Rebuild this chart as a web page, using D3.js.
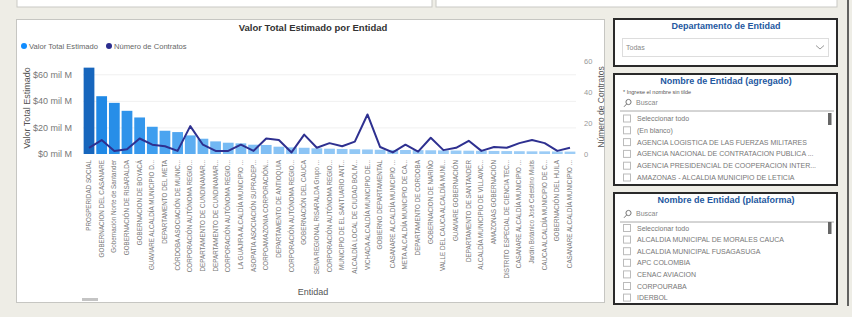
<!DOCTYPE html>
<html>
<head>
<meta charset="utf-8">
<script src="https://cdn.jsdelivr.net/npm/d3@7"></script>
<style>
  body { margin: 0; background: #eeede6; }
  svg { display: block; font-family: "Liberation Sans", Arial, sans-serif; }
</style>
</head>
<body>
<svg id="chart" width="852" height="317"></svg>
<script>
// datos (valor en mil M, contratos en unidades)
var entidades = [
  "PROSPERIDAD SOCIAL", "GOBERNACION DEL CASANARE", "Gobernación Norte de Santander",
  "GOBERNACIÓN DE RISARALDA", "GOBERNACION DE BOYACÁ", "GUAVIARE ALCALDÍA MUNICIPIO D...",
  "DEPARTAMENTO DEL META", "CÓRDOBA ASOCIACIÓN DE MUNIC...", "CORPORACIÓN AUTÓNOMA REGIO...",
  "DEPARTAMENTO DE CUNDINAMAR...", "DEPARTAMENTO DE CUNDINAMAR...", "CORPORACIÓN AUTÓNOMA REGIO...",
  "LA GUAJIRA ALCALDÍA MUNICIPIO ...", "ASOPATIA ASOCIACIÓN SUPRADEP...", "CORPOAMAZONIA CORPORACIÓN...",
  "DEPARTAMENTO DE ANTIOQUIA", "CORPORACIÓN AUTÓNOMA REGIO...", "GOBERNACIÓN DEL CAUCA",
  "SENA REGIONAL RISARALDA Grupo ...", "CORPORACIÓN AUTÓNOMA REGIO...", "MUNICIPIO DE EL SANTUARIO ANT...",
  "ALCALDÍA LOCAL DE CIUDAD BOLIV...", "VICHADA ALCALDÍA MUNICIPIO DE...", "GOBIERNO DEPARTAMENTAL",
  "CASANARE ALCALDÍA MUNICIPIO ...", "META ALCALDÍA MUNICIPIO DE CA...", "DEPARTAMENTO DE CORDOBA",
  "GOBERNACION DE NARIÑO", "VALLE DEL CAUCA ALCALDÍA MUNI...", "GUAVIARE GOBERNACIÓN",
  "DEPARTAMENTO DE SANTANDER", "ALCALDÍA MUNICIPIO DE VILLAVIC...", "AMAZONAS GOBERNACIÓN",
  "DISTRITO ESPECIAL DE CIENCIA TEC...", "CASANARE ALCALDÍA MUNICIPIO ...", "Jardín Botánico José Celestino Mutis",
  "CAUCA ALCALDÍA MUNICIPIO DE C...", "GOBERNACIÓN DEL HUILA", "CASANARE ALCALDÍA MUNICIPIO ..."
];
var valorTotal = [65, 43.5, 38.5, 32.5, 27.5, 20.5, 17.5, 16.5, 14, 11.5, 9.5, 8.5, 8, 7, 6.8,
  5.5, 5, 4.7, 4.3, 4, 3.8, 3.6, 3.4, 3.2, 3.1, 3, 2.9, 2.8, 2.7, 2.6, 2.5, 2.4, 2.3, 2.2,
  2.1, 2, 2, 1.9, 1.8];
var numContratos = [4, 9, 2, 3, 10, 6, 5, 2, 18, 6, 2, 2, 6, 2, 10, 9, 1, 12.5, 4, 7, 5, 8,
  25.5, 4.5, 1, 6, 1.5, 10.5, 2.5, 4, 8.5, 2, 4.5, 4, 7, 9, 7, 2, 4];
var ticksValor = [0, 20, 40, 60];
var ticksContratos = [0, 20, 40, 60];

var slicerDepto = ["Todas"];
var listaAgregado = ["Seleccionar todo", "(En blanco)", "AGENCIA LOGISTICA DE LAS FUERZAS MILITARES",
  "AGENCIA NACIONAL DE CONTRATACION PUBLICA ...", "AGENCIA PRESIDENCIAL DE COOPERACION INTER...",
  "AMAZONAS - ALCALDIA MUNICIPIO DE LETICIA"];
var listaPlataforma = ["Seleccionar todo", "ALCALDIA MUNICIPAL DE MORALES CAUCA", "ALCALDIA MUNICIPAL FUSAGASUGA",
  "APC COLOMBIA", "CENAC AVIACION", "CORPOURABA", "IDERBOL"];

var svg = d3.select("#chart");

// bordes de visuales arriba (cortados)
svg.append("rect").attr("x", 17).attr("y", -3).attr("width", 415).attr("height", 10)
  .attr("fill", "#fff").attr("stroke", "#c9c9c4");
svg.append("rect").attr("x", 436).attr("y", -3).attr("width", 401).attr("height", 10)
  .attr("fill", "#fff").attr("stroke", "#c9c9c4");
svg.append("line").attr("x1", 848).attr("x2", 848).attr("y1", 0).attr("y2", 306)
  .attr("stroke", "#333").attr("stroke-width", 1.5);

// panel del grafico
svg.append("rect").attr("x", 16.5).attr("y", 19.5).attr("width", 588).attr("height", 283)
  .attr("fill", "#fff").attr("stroke", "#c6c6c2");

svg.append("text").attr("x", 313).attr("y", 31).attr("text-anchor", "middle")
  .attr("font-size", "9.5px").attr("font-weight", "bold").attr("fill", "#333")
  .text("Valor Total Estimado por Entidad");

// leyenda
var legend = svg.append("g");
legend.append("circle").attr("cx", 24).attr("cy", 46).attr("r", 3).attr("fill", "#118dff");
legend.append("text").attr("x", 29).attr("y", 48.5).attr("font-size", "7.6px").attr("fill", "#666").text("Valor Total Estimado");
legend.append("circle").attr("cx", 109).attr("cy", 46).attr("r", 3).attr("fill", "#2b2d8e");
legend.append("text").attr("x", 114).attr("y", 48.5).attr("font-size", "7.6px").attr("fill", "#666").text("Número de Contratos");

var x = d3.scaleBand().domain(d3.range(entidades.length)).range([83, 576]).paddingInner(0.15).paddingOuter(0.05);
var yL = d3.scaleLinear().domain([0, 70]).range([154, 61]);
var yR = d3.scaleLinear().domain([0, 60]).range([154, 61]);

// lineas de cuadricula
svg.append("g").attr("transform", "translate(83,0)")
  .call(d3.axisLeft(yL).tickValues(ticksValor.slice(1)).tickSize(-493).tickFormat(""))
  .call(function(g) { g.select(".domain").remove(); })
  .selectAll("line").attr("stroke", "#f0f0f0");

// eje izquierdo
svg.append("g").attr("transform", "translate(75,0)")
  .call(d3.axisLeft(yL).tickValues(ticksValor).tickSize(0).tickFormat(function(d) { return "$" + d + " mil M"; }))
  .call(function(g) { g.select(".domain").remove(); })
  .selectAll("text").attr("font-size", "9px").attr("fill", "#777").attr("font-family", null).attr("dy", "0.32em");

svg.append("text").attr("transform", "translate(30,108) rotate(-90)").attr("text-anchor", "middle")
  .attr("font-size", "9px").attr("fill", "#555").text("Valor Total Estimado");

// eje derecho
svg.append("g").attr("transform", "translate(584,0)")
  .call(d3.axisRight(yR).tickValues(ticksContratos).tickSize(0).tickPadding(0))
  .call(function(g) { g.select(".domain").remove(); })
  .selectAll("text").attr("font-size", "7.5px").attr("fill", "#999").attr("font-family", null);

svg.append("text").attr("transform", "translate(604,107) rotate(-90)").attr("text-anchor", "middle")
  .attr("font-size", "8.5px").attr("fill", "#555").text("Número de Contratos");

// barras
var color = d3.scaleLinear().domain([0, 8, 20, 45, 65])
  .range(["#a8d2f7", "#78bbf3", "#3f9eef", "#1e88e5", "#1766bd"]);
svg.append("g").selectAll("rect").data(valorTotal).join("rect")
  .attr("x", function(d, i) { return x(i); })
  .attr("y", function(d) { return yL(d); })
  .attr("width", x.bandwidth())
  .attr("height", function(d) { return yL(0) - yL(d); })
  .attr("fill", function(d) { return color(d); });

// linea de contratos
var line = d3.line()
  .x(function(d, i) { return x(i) + x.bandwidth() / 2; })
  .y(function(d) { return yR(d); });
svg.append("path").datum(numContratos).attr("d", line)
  .attr("fill", "none").attr("stroke", "#2e3090").attr("stroke-width", 2).attr("stroke-linejoin", "round");

// eje x
svg.append("g").attr("transform", "translate(0,157)")
  .call(d3.axisBottom(x).tickSize(0).tickFormat(function(i) { return entidades[i]; }))
  .call(function(g) { g.select(".domain").remove(); })
  .selectAll("text")
  .attr("font-size", "6.3px").attr("fill", "#777").attr("font-family", null)
  .attr("text-anchor", "end").attr("transform", "rotate(-90)")
  .attr("x", -3).attr("y", 0).attr("dy", "0.32em");

svg.append("text").attr("x", 313).attr("y", 295).attr("text-anchor", "middle")
  .attr("font-size", "9px").attr("fill", "#555").text("Entidad");

// barra de desplazamiento
svg.append("rect").attr("x", 82).attr("y", 298).attr("width", 16).attr("height", 3).attr("fill", "#c4c4c4");

// segmentadores
function panel(y, h, titulo) {
  svg.append("rect").attr("x", 614).attr("y", y).attr("width", 223).attr("height", h)
    .attr("fill", "#fff").attr("stroke", "#2a2a2a").attr("stroke-width", 2);
  svg.append("text").attr("x", 726).attr("y", y + 9.5).attr("text-anchor", "middle")
    .attr("font-size", "9px").attr("font-weight", "bold").attr("fill", "#24589f").text(titulo);
}

function buscar(y) {
  svg.append("circle").attr("cx", 628.5).attr("cy", y - 3).attr("r", 2.6).attr("fill", "none").attr("stroke", "#777");
  svg.append("line").attr("x1", 626.6).attr("y1", y - 1).attr("x2", 624).attr("y2", y + 1.8).attr("stroke", "#777");
  svg.append("text").attr("x", 636).attr("y", y).attr("font-size", "7px").attr("fill", "#888").text("Buscar");
  svg.append("line").attr("x1", 620).attr("x2", 834).attr("y1", y + 6).attr("y2", y + 6).attr("stroke", "#aaa");
}

function lista(items, y0, paso, yThumb) {
  var g = svg.append("g");
  items.forEach(function(t, i) {
    var y = y0 + i * paso;
    g.append("rect").attr("x", 623.5).attr("y", y - 6).attr("width", 7).attr("height", 7)
      .attr("fill", "#fff").attr("stroke", "#bbb");
    g.append("text").attr("x", 637).attr("y", y).attr("font-size", "7px").attr("fill", "#777").text(t);
  });
  svg.append("rect").attr("x", 828).attr("y", yThumb).attr("width", 3.5).attr("height", 12).attr("fill", "#666");
}

panel(19, 47, "Departamento de Entidad");
svg.append("rect").attr("x", 622.5).attr("y", 38.5).attr("width", 206).attr("height", 18)
  .attr("fill", "#fff").attr("stroke", "#ddd");
svg.append("text").attr("x", 626).attr("y", 50).attr("font-size", "7px").attr("fill", "#888").text(slicerDepto[0]);
svg.append("path").attr("d", "M816,45.5 L820,49 L824,45.5").attr("fill", "none").attr("stroke", "#999");

panel(74, 111, "Nombre de Entidad (agregado)");
svg.append("text").attr("x", 623).attr("y", 94).attr("font-size", "5.5px").attr("fill", "#555")
  .text("* Ingrese el nombre sin tilde");
buscar(105);
lista(listaAgregado, 121, 11.8, 113);

// el ultimo panel recorta la lista
var clip = svg.append("clipPath").attr("id", "recorte");
clip.append("rect").attr("x", 614).attr("y", 193).attr("width", 223).attr("height", 111);
panel(193, 111, "Nombre de Entidad (plataforma)");
buscar(216);
var antes = svg.selectAll("g").size();
lista(listaPlataforma, 230.5, 11.6, 222);
svg.selectAll("g").filter(function(d, i) { return i >= antes; }).attr("clip-path", "url(#recorte)");
svg.append("rect").attr("x", 614).attr("y", 193).attr("width", 223).attr("height", 111)
  .attr("fill", "none").attr("stroke", "#2a2a2a").attr("stroke-width", 2);
</script>
</body>
</html>
